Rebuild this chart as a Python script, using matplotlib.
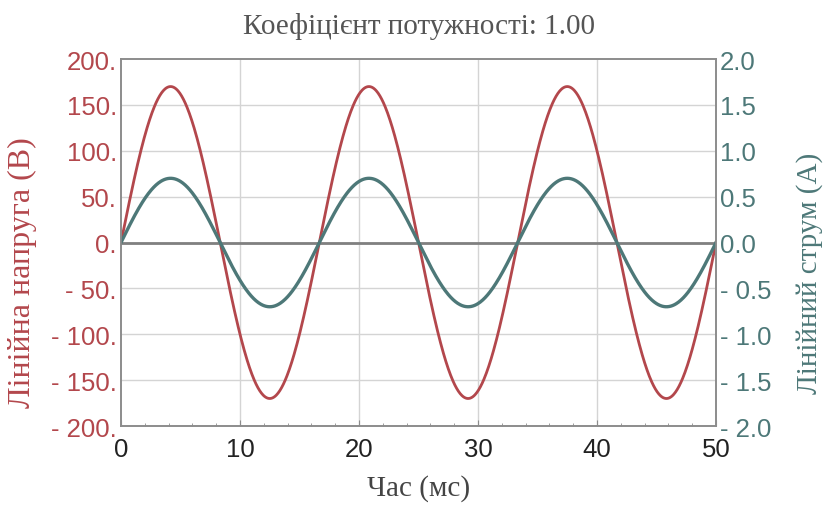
import numpy as np
import matplotlib
matplotlib.use("Agg")
import matplotlib.pyplot as plt
from matplotlib.ticker import MultipleLocator

# ---- data parameters ----
power_factor = 1.00
v_peak = 170.0          # V
i_peak = 0.70           # A
freq_hz = 60.0
t_max_ms = 50.0
v_ticks = [-200, -150, -100, -50, 0, 50, 100, 150, 200]
v_tick_labels = ["- 200.", "- 150.", "- 100.", "- 50.", "0.", "50.", "100.", "150.", "200."]
i_ticks = [-2.0, -1.5, -1.0, -0.5, 0.0, 0.5, 1.0, 1.5, 2.0]
i_tick_labels = ["- 2.0", "- 1.5", "- 1.0", "- 0.5", "0.0", "0.5", "1.0", "1.5", "2.0"]
x_ticks = [0, 10, 20, 30, 40, 50]
x_tick_labels = ["0", "10", "20", "30", "40", "50"]

title_text = "Коефіцієнт потужності: 1.00"
xlabel_text = "Час (мс)"
ylabel_left = "Лінійна напруга (В)"
ylabel_right = "Лінійний струм (А)"

t_ms = np.linspace(0, t_max_ms, 1001)
phase = np.arccos(power_factor)
voltage = v_peak * np.sin(2 * np.pi * freq_hz * t_ms / 1000.0)
current = i_peak * np.sin(2 * np.pi * freq_hz * t_ms / 1000.0 - phase)

red = "#b3474c"
teal = "#4d7878"
frame = "#8c8c8c"
gridc = "#d4d4d4"

sans = "Liberation Sans"
serif = "Liberation Serif"

fig = plt.figure(figsize=(8.27, 5.10), dpi=100)
ax = fig.add_axes([0.1463, 0.1627, 0.7195, 0.7196])
ax2 = ax.twinx()

ax.set_xlim(0, t_max_ms)
ax.set_ylim(-200, 200)
ax2.set_ylim(-2.0, 2.0)

# grid
for x in x_ticks[1:-1]:
    ax.axvline(x, color=gridc, lw=1.0, zorder=0)
for y in v_ticks[1:-1]:
    ax.axhline(y, color=gridc, lw=1.0, zorder=0)
ax.axhline(0, color="#808080", lw=2.0, zorder=3)

ax.plot(t_ms, voltage, color=red, lw=2.0, zorder=2)
ax2.plot(t_ms, current, color=teal, lw=2.4, zorder=2)

for a in (ax, ax2):
    for s in a.spines.values():
        s.set_color(frame)
        s.set_linewidth(1.2)

ax.set_yticks(v_ticks)
ax.set_yticklabels(v_tick_labels, fontfamily=sans)
ax2.set_yticks(i_ticks)
ax2.set_yticklabels(i_tick_labels, fontfamily=sans)
ax.set_xticks(x_ticks)
ax.set_xticklabels(x_tick_labels, fontfamily=sans)
ax.xaxis.set_minor_locator(MultipleLocator(2))

ax.tick_params(axis="y", length=0, pad=3, labelsize=18.5, labelcolor=red)
ax2.tick_params(axis="y", length=0, pad=3, labelsize=18.5, labelcolor=teal)
ax.tick_params(axis="x", which="major", direction="in", length=4, color=frame,
               labelsize=18.5, labelcolor="#222222", pad=8)
ax.tick_params(axis="x", which="minor", direction="in", length=2.5, color=frame)
ax.tick_params(axis="x", top=False)

ax.set_title(title_text, fontfamily=serif, fontsize=21, color="#555555", pad=19)
ax.set_xlabel(xlabel_text, fontfamily=serif, fontsize=21, color="#444444", labelpad=9)
ax.set_ylabel(ylabel_left, fontfamily=serif, fontsize=23, color=red)
ax2.set_ylabel(ylabel_right, fontfamily=serif, fontsize=21, color=teal)
ax.yaxis.set_label_coords(-0.141, 0.42)
ax2.yaxis.set_label_coords(1.135, 0.42)

fig.savefig("out.png", dpi=100)
